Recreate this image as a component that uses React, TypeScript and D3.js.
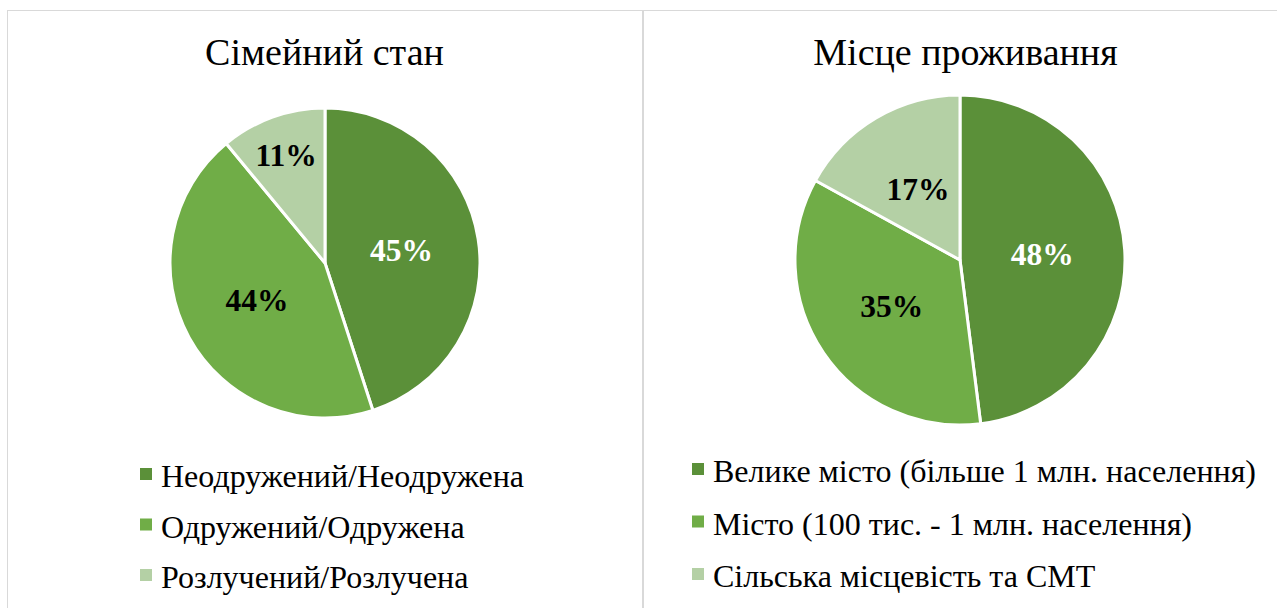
import React from 'react'
import * as d3 from 'd3'

// Сімейний стан
const maritalTitle = 'Сімейний стан'
const maritalLabels = ['Неодружений/Неодружена', 'Одружений/Одружена', 'Розлучений/Розлучена']
const maritalValues = [45, 44, 11]

// Місце проживання
const residenceTitle = 'Місце проживання'
const residenceLabels = [
  'Велике місто (більше 1 млн. населення)',
  'Місто (100 тис. - 1 млн. населення)',
  'Сільська місцевість та СМТ',
]
const residenceValues = [48, 35, 17]

const sliceColors = ['#5b9039', '#70ad47', '#b4d0a5']
const labelColors = ['#ffffff', '#000000', '#000000']

const serif = '"Liberation Serif", "Times New Roman", serif'

type PanelProps = {
  x: number
  width: number
  title: string
  labels: string[]
  values: number[]
  cx: number
  cy: number
  radius: number
  legendX: number
  legendY: number
  legendStep: number
}

function PiePanel({ x, width, title, labels, values, cx, cy, radius, legendX, legendY, legendStep }: PanelProps) {
  const pie = d3.pie<number>().sort(null).value(d => d)
  const arcs = pie(values)
  const total = d3.sum(values)
  const arc = d3.arc<d3.PieArcDatum<number>>().innerRadius(0).outerRadius(radius)

  // labels at half radius, thin slices get pushed outwards (like Excel's best fit)
  const labelPos = (a: d3.PieArcDatum<number>) => {
    const frac = a.value / total
    const r = frac < 0.15 ? radius * 0.74 : radius * 0.5
    const mid = (a.startAngle + a.endAngle) / 2
    return [Math.sin(mid) * r, -Math.cos(mid) * r]
  }

  return (
    <g>
      <rect x={x + 0.5} y={10.5} width={width} height={620} fill="#fff" stroke="#d9d9d9" strokeWidth={1} />
      <text x={x + width / 2} y={65} textAnchor="middle" fontFamily={serif} fontSize={38} fill="#000">
        {title}
      </text>
      <g transform={`translate(${cx},${cy})`}>
        {arcs.map((a, i) => (
          <path key={i} d={arc(a) || ''} fill={sliceColors[i]} stroke="#fff" strokeWidth={3} strokeLinejoin="round" />
        ))}
        {arcs.map((a, i) => {
          const [lx, ly] = labelPos(a)
          return (
            <text key={i} x={lx} y={ly + 10.5} textAnchor="middle" fontFamily={serif} fontWeight="bold"
              fontSize={31.5} fill={labelColors[i]}>
              {`${a.value}%`}
            </text>
          )
        })}
      </g>
      {labels.map((l, i) => (
        <g key={i} transform={`translate(${legendX},${legendY + i * legendStep})`}>
          <rect x={0} y={-19} width={12} height={12} fill={sliceColors[i]} />
          <text x={21} y={0} fontFamily={serif} fontSize={32} fill="#000">{l}</text>
        </g>
      ))}
    </g>
  )
}

export default function App() {
  return (
    <svg width={1277} height={608} style={{ position: 'absolute', left: 0, top: 0, background: '#fff' }}>
      <PiePanel x={7} width={635} title={maritalTitle} labels={maritalLabels} values={maritalValues}
        cx={325} cy={263} radius={155} legendX={140} legendY={487} legendStep={50.5} />
      <PiePanel x={643} width={645} title={residenceTitle} labels={residenceLabels} values={residenceValues}
        cx={960} cy={260} radius={165} legendX={692} legendY={482} legendStep={52.5} />
    </svg>
  )
}
